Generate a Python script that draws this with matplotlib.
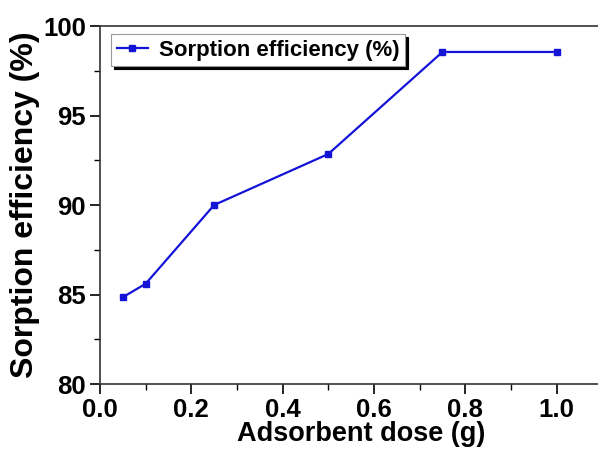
import numpy as np
import matplotlib.pyplot as plt
from matplotlib.ticker import MultipleLocator

plt.rcParams['font.family'] = ['Liberation Sans', 'DejaVu Sans']
plt.rcParams['font.weight'] = 'bold'

# adsorbent dose (g) vs. sorption efficiency (%)
dose = [0.05, 0.10, 0.25, 0.50, 0.75, 1.00]
efficiency = [84.85, 85.6, 90.0, 92.85, 98.55, 98.55]

fig = plt.figure(figsize=(5.98, 4.53), dpi=100)
ax = fig.add_axes([0.1672, 0.1523, 0.84, 0.7903])

ax.plot(dose, efficiency, color='#1414d8', linewidth=1.6, marker='s',
        markersize=5, label='Sorption efficiency (%)')

ax.set_xlim(0.0, 1.1)
ax.set_ylim(80, 100)
ax.xaxis.set_major_locator(MultipleLocator(0.2))
ax.xaxis.set_minor_locator(MultipleLocator(0.1))
ax.yaxis.set_major_locator(MultipleLocator(5))
ax.yaxis.set_minor_locator(MultipleLocator(2.5))
ax.tick_params(which='major', direction='out', length=7, width=1.2,
               labelsize=18.5, pad=3)
ax.tick_params(which='minor', direction='out', length=4, width=1.0)
for lab in ax.get_xticklabels() + ax.get_yticklabels():
    lab.set_fontweight('bold')
for s in ax.spines.values():
    s.set_linewidth(1.2)
    s.set_color('#333333')
ax.spines['right'].set_visible(False)

ax.set_xlabel('Adsorbent dose (g)', fontsize=19.5, fontweight='bold')
ax.xaxis.set_label_coords(0.52, -0.102)
ax.set_ylabel('Sorption efficiency (%)', fontsize=23, fontweight='bold', labelpad=2)

leg = ax.legend(loc='upper left', bbox_to_anchor=(0.022, 0.977), fancybox=False,
                shadow={'color': 'black', 'alpha': 1.0}, framealpha=1.0,
                edgecolor='#999999', handlelength=1.4, handletextpad=0.5,
                borderpad=0.25, borderaxespad=0, prop={'size': 16, 'weight': 'bold'})
leg.get_frame().set_linewidth(0.8)

fig.savefig('out.png', dpi=100)
